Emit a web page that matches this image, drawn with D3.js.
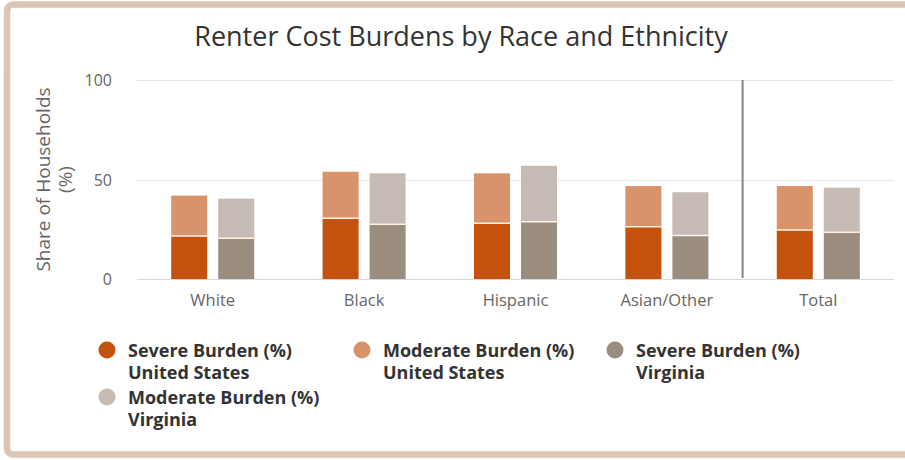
<!DOCTYPE html>
<html>
<head>
<meta charset="utf-8">
<script src="https://cdn.jsdelivr.net/npm/d3@7"></script>
<style>
  html, body { margin: 0; padding: 0; background: #fff; }
  svg { display: block; font-family: "Open Sans", "Noto Sans", sans-serif; }
</style>
</head>
<body>
<svg id="chart" width="905" height="460"></svg>
<script>
// ---- data ----
const categories = ["White", "Black", "Hispanic", "Asian/Other", "Total"];
const severeUS   = [21.6, 30.5, 28.0, 26.3, 24.6];
const moderateUS = [20.3, 23.4, 25.1, 20.4, 22.1];
const severeVA   = [20.5, 27.5, 28.8, 21.8, 23.5];
const moderateVA = [19.9, 25.6, 28.1, 21.8, 22.4];
const yTicks = [0, 50, 100];
const groups = ["United States", "Virginia"];
const legendItems = [
  ["Severe Burden (%)", "United States"],
  ["Moderate Burden (%)", "United States"],
  ["Severe Burden (%)", "Virginia"],
  ["Moderate Burden (%)", "Virginia"]
];
const titleText = "Renter Cost Burdens by Race and Ethnicity";
const yTitle = ["Share of Households", "(%)"];
const separatorBefore = "Total";

// ---- styles ----
const colors = ["#c4510c", "#d9936a", "#9b8c80", "#c5bbb4"];

const svg = d3.select("#chart");

// frame
svg.append("rect")
  .attr("x", 7).attr("y", 4.5).attr("width", 1000).attr("height", 450)
  .attr("rx", 6).attr("fill", "#fff")
  .attr("stroke", "#dcc5b2").attr("stroke-width", 6.5);

const plot = { left: 137, right: 894, top: 80, bottom: 279 };

const x0 = d3.scaleBand().domain(categories).range([plot.left, plot.right]);
const x1 = d3.scaleBand().domain(groups).range([0, x0.bandwidth()])
  .paddingInner(0.234).paddingOuter(0.727);
const y = d3.scaleLinear().domain([0, 100]).range([plot.bottom, plot.top]);

// title
svg.append("text")
  .attr("x", 461).attr("y", 46)
  .attr("text-anchor", "middle")
  .attr("font-size", 27).attr("fill", "#333")
  .text(titleText);

// gridlines
svg.append("g").selectAll("line").data(yTicks).join("line")
  .attr("x1", plot.left).attr("x2", plot.right)
  .attr("y1", d => Math.round(y(d)) + 0.5).attr("y2", d => Math.round(y(d)) + 0.5)
  .attr("stroke", d => d === 0 ? "#d8d8d8" : "#e6e6e6").attr("stroke-width", 1);

// y axis labels
const yAxis = d3.axisLeft(y).tickValues(yTicks).tickSize(0).tickPadding(0);
const yg = svg.append("g").attr("transform", `translate(112,0)`).call(yAxis);
yg.select(".domain").remove();
yg.selectAll("text").attr("font-size", 16).attr("fill", "#666")
  .attr("font-family", "Open Sans, sans-serif").attr("dy", "0.35em");

// y title
const yt = svg.append("text")
  .attr("transform", `translate(0,${(plot.top + plot.bottom) / 2}) rotate(-90)`)
  .attr("text-anchor", "middle").attr("font-size", 19).attr("fill", "#666");
yt.append("tspan").attr("x", 0).attr("y", 50).text(yTitle[0]);
yt.append("tspan").attr("x", 0).attr("y", 72).text(yTitle[1]);

// x axis labels
const xAxis = d3.axisBottom(x0).tickSize(0).tickPadding(0);
const xg = svg.append("g").attr("transform", `translate(0,${plot.bottom})`).call(xAxis);
xg.select(".domain").remove();
xg.selectAll("text").attr("font-size", 16.5).attr("fill", "#666")
  .attr("font-family", "Open Sans, sans-serif").attr("dy", "27");

// bars
const stacks = [
  { group: groups[0], severe: severeUS, moderate: moderateUS, cs: colors[0], cm: colors[1] },
  { group: groups[1], severe: severeVA, moderate: moderateVA, cs: colors[2], cm: colors[3] }
];
const barsG = svg.append("g");
stacks.forEach(s => {
  categories.forEach((c, i) => {
    const bx = x0(c) + x1(s.group);
    const bw = x1.bandwidth();
    const sv = s.severe[i], mv = s.moderate[i];
    barsG.append("rect")
      .attr("x", bx).attr("width", bw)
      .attr("y", y(sv)).attr("height", y(0) - y(sv))
      .attr("fill", s.cs);
    barsG.append("rect")
      .attr("x", bx).attr("width", bw)
      .attr("y", y(sv + mv)).attr("height", y(sv) - y(sv + mv))
      .attr("fill", s.cm);
    barsG.append("line")
      .attr("x1", bx).attr("x2", bx + bw)
      .attr("y1", y(sv)).attr("y2", y(sv))
      .attr("stroke", "#fff3e6").attr("stroke-width", 1.5);
  });
});

// separator line
const sepX = x0(separatorBefore) - (x0.step() - x0.bandwidth()) / 2;
svg.append("line")
  .attr("x1", sepX).attr("x2", sepX)
  .attr("y1", plot.top).attr("y2", plot.bottom - 1)
  .attr("stroke", "#8f8278").attr("stroke-width", 2);

// legend
const legend = svg.append("g");
const colX = [107, 362, 615];
legendItems.forEach((item, i) => {
  const col = i % 3, row = Math.floor(i / 3);
  const cx = colX[col], cy = 350 + row * 47;
  const g = legend.append("g");
  g.append("circle").attr("cx", cx).attr("cy", cy).attr("r", 8.5).attr("fill", colors[i]);
  const t = g.append("text").attr("font-size", 18).attr("font-weight", "bold").attr("fill", "#333");
  t.append("tspan").attr("x", cx + 21).attr("y", cy + 7).text(item[0]);
  t.append("tspan").attr("x", cx + 21).attr("y", cy + 29).text(item[1]);
});
</script>
</body>
</html>
